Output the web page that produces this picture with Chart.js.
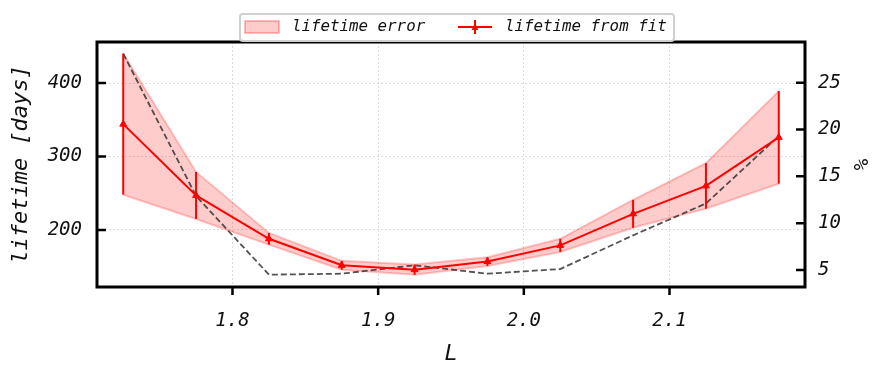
<!DOCTYPE html>
<html>
<head>
<meta charset="utf-8">
<script src="https://cdn.jsdelivr.net/npm/chart.js@4/dist/chart.umd.min.js"></script>
<style>
  html, body { margin: 0; padding: 0; background: #fff; }
</style>
</head>
<body>
<canvas id="chart" width="873" height="365"></canvas>
<script>
// L shells and fitted lifetime values
let L = [1.725, 1.775, 1.825, 1.875, 1.925, 1.975, 2.025, 2.075, 2.125, 2.175];
let lifetime = [344, 247, 188, 152, 146, 157, 179, 222, 260, 326];
let lifetimeErr = [96, 32, 8, 6, 7, 6, 9, 19, 31, 63];
let percent = [28.1, 12.9, 4.5, 4.6, 5.5, 4.6, 5.1, 8.7, 12.1, 19.3];

let xTicks = [1.8, 1.9, 2.0, 2.1];
let xTickLabels = ['1.8', '1.9', '2.0', '2.1'];
let yTicks = [200, 300, 400];
let y2Ticks = [5, 10, 15, 20, 25];

const FONT = "'DejaVu Sans Mono', monospace";
const tickFont = { family: FONT, size: 19, style: 'italic' };

let pts = (ys) => L.map((x, i) => ({ x: x, y: ys[i] }));
let upper = lifetime.map((v, i) => v + lifetimeErr[i]);
let lower = lifetime.map((v, i) => v - lifetimeErr[i]);

// error bars, inward ticks, frame, right label and legend box
let extras = {
  id: 'extras',
  afterDatasetsDraw(chart) {
    let ctx = chart.ctx, xs = chart.scales.x, ys = chart.scales.y;
    ctx.save();
    ctx.strokeStyle = '#ff0000';
    ctx.lineWidth = 2;
    L.forEach((x, i) => {
      let px = xs.getPixelForValue(x);
      ctx.beginPath();
      ctx.moveTo(px, ys.getPixelForValue(upper[i]));
      ctx.lineTo(px, ys.getPixelForValue(lower[i]));
      ctx.stroke();
    });
    ctx.restore();
  },
  afterDraw(chart) {
    let ctx = chart.ctx, a = chart.chartArea;
    let xs = chart.scales.x, ys = chart.scales.y, y2 = chart.scales.y2;
    ctx.save();
    ctx.strokeStyle = '#000';
    ctx.lineWidth = 2.5;
    ctx.beginPath();
    yTicks.forEach(v => { let p = ys.getPixelForValue(v); ctx.moveTo(a.left, p); ctx.lineTo(a.left + 9, p); });
    y2Ticks.forEach(v => { let p = y2.getPixelForValue(v); ctx.moveTo(a.right - 9, p); ctx.lineTo(a.right, p); });
    xTicks.forEach(v => { let p = xs.getPixelForValue(v); ctx.moveTo(p, a.bottom); ctx.lineTo(p, a.bottom + 8); });
    ctx.stroke();
    ctx.lineWidth = 3;
    ctx.strokeRect(a.left, a.top, a.right - a.left, a.bottom - a.top);

    // right axis label, reads bottom to top
    ctx.save();
    ctx.translate(863, (a.top + a.bottom) / 2);
    ctx.rotate(-Math.PI / 2);
    ctx.fillStyle = '#111';
    ctx.font = "italic 19px " + FONT;
    ctx.textAlign = 'center';
    ctx.textBaseline = 'middle';
    ctx.fillText('%', 0, 0);
    ctx.restore();

    // legend
    ctx.fillStyle = 'rgba(255,255,255,0.85)';
    ctx.strokeStyle = '#d0d0d0';
    ctx.lineWidth = 2;
    ctx.beginPath();
    ctx.roundRect(240, 14, 434, 27, 3);
    ctx.fill();
    ctx.stroke();
    ctx.fillStyle = 'rgba(255,0,0,0.2)';
    ctx.strokeStyle = 'rgba(255,0,0,0.25)';
    ctx.lineWidth = 2;
    ctx.fillRect(245, 21, 34, 12);
    ctx.strokeRect(245, 21, 34, 12);
    ctx.strokeStyle = '#ff0000';
    ctx.beginPath();
    ctx.moveTo(458, 27); ctx.lineTo(492, 27);
    ctx.moveTo(475, 20); ctx.lineTo(475, 34);
    ctx.stroke();
    ctx.fillStyle = '#ff0000';
    ctx.beginPath();
    ctx.moveTo(475, 23.5); ctx.lineTo(478.5, 30); ctx.lineTo(471.5, 30); ctx.closePath();
    ctx.fill();
    ctx.fillStyle = '#111';
    ctx.font = "italic 15.8px " + FONT;
    ctx.textBaseline = 'middle';
    ctx.fillText('lifetime error', 292, 27);
    ctx.fillText('lifetime from fit', 505, 27);
    ctx.restore();
  }
};

new Chart(document.getElementById('chart'), {
  type: 'line',
  data: {
    datasets: [
      {
        label: 'band upper',
        data: pts(upper),
        borderColor: 'rgba(255,0,0,0.22)',
        borderWidth: 2,
        pointRadius: 0,
        fill: false,
        order: 3
      },
      {
        label: 'lifetime error',
        data: pts(lower),
        borderColor: 'rgba(255,0,0,0.22)',
        backgroundColor: 'rgba(255,0,0,0.2)',
        borderWidth: 2,
        pointRadius: 0,
        fill: '-1',
        order: 2
      },
      {
        label: 'lifetime from fit',
        data: pts(lifetime),
        borderColor: '#ff0000',
        backgroundColor: '#ff0000',
        borderWidth: 2,
        pointStyle: 'triangle',
        pointRadius: 4,
        pointBorderWidth: 1,
        order: 0
      },
      {
        label: '%',
        data: pts(percent),
        yAxisID: 'y2',
        borderColor: 'rgba(40,40,40,0.8)',
        borderWidth: 1.8,
        borderDash: [6, 3],
        pointRadius: 0,
        order: 1
      }
    ]
  },
  plugins: [extras],
  options: {
    responsive: false,
    devicePixelRatio: 1,
    animation: false,
    layout: { padding: { top: 42, left: 0, right: 0, bottom: 0 } },
    plugins: { legend: { display: false }, tooltip: { enabled: false } },
    scales: {
      x: {
        type: 'linear',
        min: 1.707,
        max: 2.193,
        afterBuildTicks: s => { s.ticks = xTicks.map(v => ({ value: v })); },
        afterFit: s => { s.height = 78; },
        ticks: {
          font: tickFont,
          color: '#111',
          padding: 23,
          maxRotation: 0,
          callback: (v, i) => xTickLabels[i]
        },
        grid: { color: '#d4d4d4', lineWidth: 0.8, drawTicks: false },
        border: { display: false, dash: [2, 2] },
        title: {
          display: true,
          text: 'L',
          font: { family: FONT, size: 22, style: 'italic', lineHeight: 1.0 },
          color: '#111',
          padding: { top: 0, bottom: 0 }
        }
      },
      y: {
        position: 'left',
        min: 122.4,
        max: 455.8,
        afterBuildTicks: s => { s.ticks = yTicks.map(v => ({ value: v })); },
        afterFit: s => { s.width = 97; },
        ticks: { font: tickFont, color: '#111', padding: 15 },
        grid: { color: '#d4d4d4', lineWidth: 0.8, drawTicks: false },
        border: { display: false, dash: [2, 2] },
        title: {
          display: true,
          text: 'lifetime [days]',
          font: { family: FONT, size: 22, style: 'italic' },
          color: '#111',
          padding: { top: 8, bottom: 0 }
        }
      },
      y2: {
        position: 'right',
        min: 3.18,
        max: 29.35,
        afterBuildTicks: s => { s.ticks = y2Ticks.map(v => ({ value: v })); },
        afterFit: s => { s.width = 68; },
        ticks: { font: tickFont, color: '#111', padding: 13 },
        grid: { display: false, drawTicks: false },
        border: { display: false }
      }
    }
  }
});
</script>
</body>
</html>
